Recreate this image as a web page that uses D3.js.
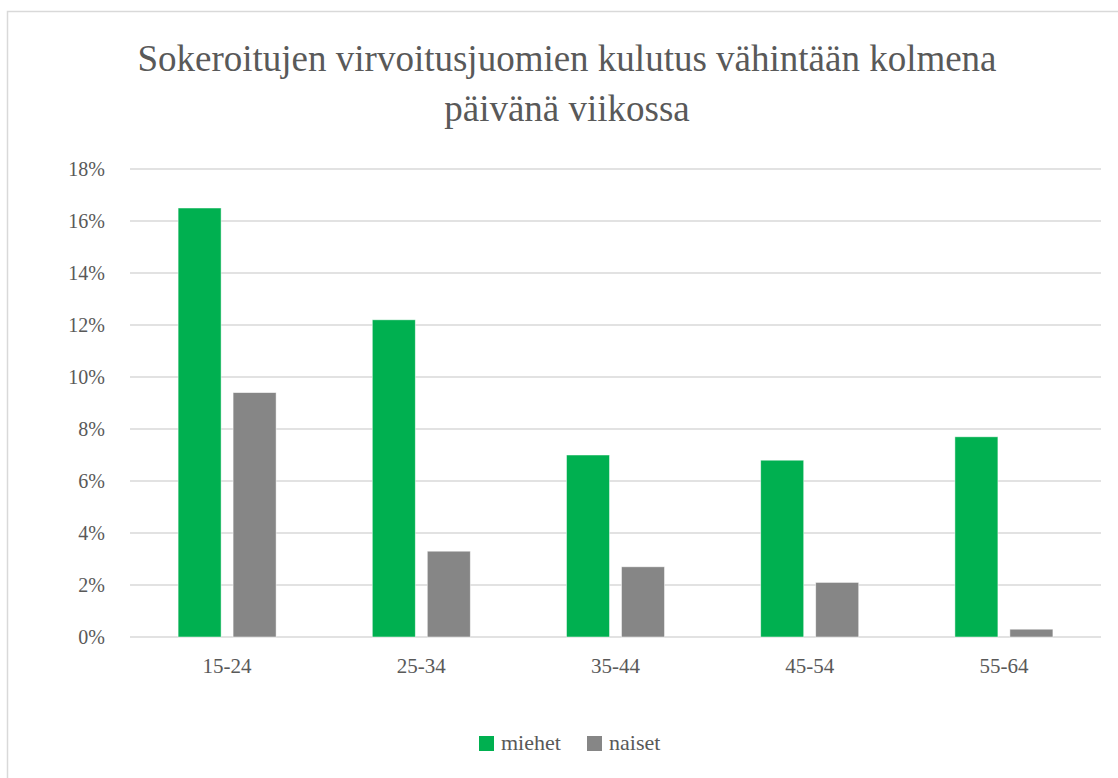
<!DOCTYPE html>
<html>
<head>
<meta charset="utf-8">
<script src="https://cdn.jsdelivr.net/npm/d3@7"></script>
<style>
  body { margin: 0; background: #fff; }
  text { font-family: "Liberation Serif", "DejaVu Serif", "Noto Serif", "Tinos", "Times New Roman", "FreeSerif", serif; fill: #595959; }
</style>
</head>
<body>
<svg id="chart"></svg>
<script>
// data
const ageGroups = ['15-24', '25-34', '35-44', '45-54', '55-64'];
const series = ['miehet', 'naiset'];
const miehet = [16.5, 12.2, 7.0, 6.8, 7.7];
const naiset = [9.4, 3.3, 2.7, 2.1, 0.3];
const yTicks = [0, 2, 4, 6, 8, 10, 12, 14, 16, 18];
const titleLines = ['Sokeroitujen virvoitusjuomien kulutus vähintään kolmena', 'päivänä viikossa'];
const colors = { miehet: '#00b050', naiset: '#868686' };

let width = 1118;
let height = 778;
let margin = { left: 130, right: 17, top: 169, bottom: 141 };

let svg = d3.select('#chart').attr('width', width).attr('height', height);

// chart frame
svg.append('rect')
  .attr('x', 7.5).attr('y', 11.5)
  .attr('width', 1200).attr('height', 1000)
  .attr('fill', 'white')
  .attr('stroke', '#d9d9d9')
  .attr('stroke-width', 1.5);

//title
svg.append('text')
  .attr('text-anchor', 'middle')
  .attr('font-size', '37px')
  .selectAll('tspan')
  .data(titleLines)
  .enter().append('tspan')
  .attr('x', 567)
  .attr('y', (d, i) => 71 + i * 50)
  .text(d => d);

let x0 = d3.scaleBand()
  .domain(ageGroups)
  .range([margin.left, width - margin.right]);

let x1 = d3.scaleBand()
  .domain(series)
  .range([0, 98])
  .paddingInner(0.218);

let y = d3.scaleLinear()
  .domain([0, 18])
  .range([height - margin.bottom, margin.top]);

// gridlines
svg.append('g')
  .selectAll('line')
  .data(yTicks)
  .enter().append('line')
  .attr('x1', margin.left)
  .attr('x2', width - margin.right)
  .attr('y1', d => y(d))
  .attr('y2', d => y(d))
  .attr('stroke', '#d9d9d9')
  .attr('stroke-width', 1.5);

// y axis labels
let yAxis = d3.axisLeft(y)
  .tickValues(yTicks)
  .tickFormat(d => d + '%')
  .tickSize(0)
  .tickPadding(0);

let yg = svg.append('g')
  .attr('transform', `translate(${margin.left - 25},0)`)
  .call(yAxis);
yg.select('.domain').remove();
yg.selectAll('text').attr('font-size', '20px').attr('fill', '#595959');

// x axis labels
let xAxis = d3.axisBottom(x0).tickSize(0).tickPadding(0);
let xg = svg.append('g')
  .attr('transform', `translate(0,${height - margin.bottom + 21})`)
  .call(xAxis);
xg.select('.domain').remove();
xg.selectAll('text').attr('font-size', '21px').attr('fill', '#595959');

// bars
let rows = ageGroups.map((g, i) => ({ group: g, miehet: miehet[i], naiset: naiset[i] }));

let groups = svg.append('g')
  .selectAll('g')
  .data(rows)
  .enter().append('g')
  .attr('transform', d => `translate(${x0(d.group) + x0.bandwidth() / 2 - 49},0)`);

groups.selectAll('rect')
  .data(d => series.map(s => ({ key: s, value: d[s] })))
  .enter().append('rect')
  .attr('x', d => x1(d.key))
  .attr('width', x1.bandwidth())
  .attr('y', d => y(d.value))
  .attr('height', d => y(0) - y(d.value))
  .attr('fill', d => colors[d.key])
  .attr('stroke', 'white')
  .attr('stroke-opacity', 0.6)
  .attr('stroke-width', 0.8);

// legend
let legendPos = [479, 587];
let legend = svg.append('g')
  .selectAll('g')
  .data(series)
  .enter().append('g')
  .attr('transform', (d, i) => `translate(${legendPos[i]},736)`);

legend.append('rect')
  .attr('width', 15)
  .attr('height', 15)
  .attr('fill', d => colors[d]);

legend.append('text')
  .attr('x', 22)
  .attr('y', 14)
  .attr('font-size', '22px')
  .text(d => d);
</script>
</body>
</html>
